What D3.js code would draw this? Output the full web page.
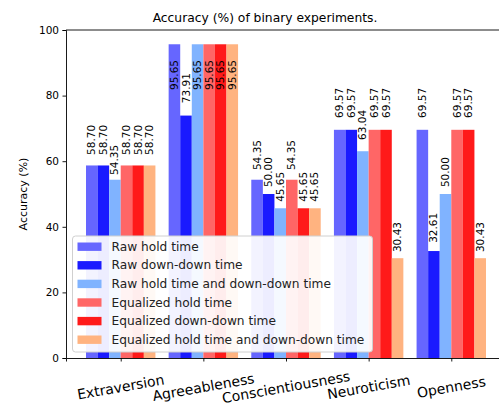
<!DOCTYPE html>
<html>
<head>
<meta charset="utf-8">
<script src="https://cdn.jsdelivr.net/npm/d3@7"></script>
<style>
  html, body { margin: 0; padding: 0; background: #fff; }
  svg { display: block; font-family: "DejaVu Sans", sans-serif; }
</style>
</head>
<body>
<div id="chart"></div>
<script>
// Personality traits (x categories)
const categories = ["Extraversion", "Agreeableness", "Conscientiousness", "Neuroticism", "Openness"];

// Experiment series, one accuracy (%) per trait
const seriesNames = [
  "Raw hold time",
  "Raw down-down time",
  "Raw hold time and down-down time",
  "Equalized hold time",
  "Equalized down-down time",
  "Equalized hold time and down-down time"
];
const rawHold        = [58.70, 95.65, 54.35, 69.57, 69.57];
const rawDownDown    = [58.70, 73.91, 50.00, 69.57, 32.61];
const rawBoth        = [54.35, 95.65, 45.65, 63.04, 50.00];
const eqHold         = [58.70, 95.65, 54.35, 69.57, 69.57];
const eqDownDown     = [58.70, 95.65, 45.65, 69.57, 69.57];
const eqBoth         = [58.70, 95.65, 45.65, 30.43, 30.43];

const yTicks = [0, 20, 40, 60, 80, 100];

const seriesValues = [rawHold, rawDownDown, rawBoth, eqHold, eqDownDown, eqBoth];
const colors = ["#6666ff", "#1a1aff", "#80b3ff", "#ff6666", "#ff1a1a", "#ffb380"];

// Where each value annotation starts, in accuracy units (labels were nudged apart)
const labelAnchor = [
  [61.9, 81.7, 57.3, 73.2, 73.2],
  [61.9, 77.7, 52.1, 73.2, 35.1],
  [55.8, 81.7, 47.6, 66.5, 52.1],
  [61.9, 81.7, 57.3, 73.2, 73.2],
  [61.9, 81.7, 47.6, 73.2, 73.2],
  [61.9, 81.7, 47.6, 32.3, 32.3]
];

const W = 499, H = 410;
const plot = { left: 66, right: 506, top: 30, bottom: 358 };
const barW = 0.14;
const nS = seriesNames.length;

const svg = d3.select("#chart").append("svg")
  .attr("width", W).attr("height", H);

// bars span ±3 bar widths around each category; 5% padding on either side
const span = nS / 2 * barW;
const pad = 0.05 * (categories.length - 1 + 2 * span);
const x = d3.scaleLinear()
  .domain([-span - pad, categories.length - 1 + span + pad])
  .range([plot.left, plot.right]);
const y = d3.scaleLinear().domain([0, 100]).range([plot.bottom, plot.top]);

svg.append("clipPath").attr("id", "plotclip")
  .append("rect").attr("x", plot.left).attr("y", plot.top)
  .attr("width", plot.right - plot.left).attr("height", plot.bottom - plot.top);

const g = svg.append("g").attr("clip-path", "url(#plotclip)");

// bars
seriesValues.forEach((vals, s) => {
  g.append("g").selectAll("rect")
    .data(vals)
    .join("rect")
    .attr("x", (v, i) => x(i + (s - nS / 2) * barW))
    .attr("width", x(barW) - x(0))
    .attr("y", v => y(v))
    .attr("height", v => y(0) - y(v))
    .attr("fill", colors[s]);
});

// value labels
seriesValues.forEach((vals, s) => {
  g.append("g").selectAll("text")
    .data(vals)
    .join("text")
    .attr("transform", (v, i) =>
      `translate(${x(i + (s - nS / 2 + 0.5) * barW) - 0.5},${y(labelAnchor[s][i])}) rotate(-90)`)
    .attr("dominant-baseline", "central")
    .attr("font-size", "10.5px")
    .attr("fill", "#000")
    .text(v => v.toFixed(2));
});

// axes
const yAxis = d3.axisLeft(y).tickValues(yTicks).tickSize(3.5).tickPadding(3.5);
const ya = svg.append("g").attr("transform", `translate(${plot.left},0)`).call(yAxis);
ya.select(".domain").attr("stroke", "#000").attr("stroke-width", 0.9);
ya.selectAll(".tick line").attr("stroke", "#000").attr("stroke-width", 0.9);
ya.selectAll(".tick text").attr("font-size", "10.5px").attr("fill", "#000")
  .attr("font-family", "DejaVu Sans");

const xAxis = d3.axisBottom(x).tickValues(d3.range(categories.length))
  .tickSize(3.5).tickFormat("");
const xa = svg.append("g").attr("transform", `translate(0,${plot.bottom})`).call(xAxis);
xa.select(".domain").attr("stroke", "#000").attr("stroke-width", 0.9);
xa.selectAll(".tick line").attr("stroke", "#000").attr("stroke-width", 0.9);

svg.append("line")
  .attr("x1", plot.left).attr("x2", plot.right)
  .attr("y1", plot.top).attr("y2", plot.top)
  .attr("stroke", "#000").attr("stroke-width", 0.9);

// rotated category labels
svg.append("g").selectAll("text")
  .data(categories)
  .join("text")
  .attr("transform", (c, i) => `translate(${x(i)},${plot.bottom + 29}) rotate(-10)`)
  .attr("text-anchor", "middle")
  .attr("dominant-baseline", "central")
  .attr("font-size", "14px")
  .attr("fill", "#000")
  .text(c => c);

// y axis title
svg.append("text")
  .attr("transform", `translate(23,${(plot.top + plot.bottom) / 2}) rotate(-90)`)
  .attr("text-anchor", "middle")
  .attr("dominant-baseline", "central")
  .attr("font-size", "11px")
  .attr("fill", "#000")
  .text("Accuracy (%)");

// title
svg.append("text")
  .attr("x", 265).attr("y", 22)
  .attr("text-anchor", "middle")
  .attr("font-size", "12.3px")
  .attr("fill", "#000")
  .text("Accuracy (%) of binary experiments.");

// legend
const leg = svg.append("g").attr("transform", "translate(72.5,236)");
leg.append("rect")
  .attr("width", 300).attr("height", 116)
  .attr("rx", 3).attr("ry", 3)
  .attr("fill", "#fff").attr("fill-opacity", 0.92)
  .attr("stroke", "#d0d0d0").attr("stroke-width", 1);
const rowH = 18.6;
seriesNames.forEach((name, s) => {
  const cy = 10.7 + s * rowH;
  leg.append("rect")
    .attr("x", 5).attr("y", cy - 4.2)
    .attr("width", 24).attr("height", 8.4)
    .attr("fill", colors[s]);
  leg.append("text")
    .attr("x", 39).attr("y", cy)
    .attr("dominant-baseline", "central")
    .attr("font-size", "12.2px")
    .attr("fill", "#222")
    .text(name);
});
</script>
</body>
</html>
